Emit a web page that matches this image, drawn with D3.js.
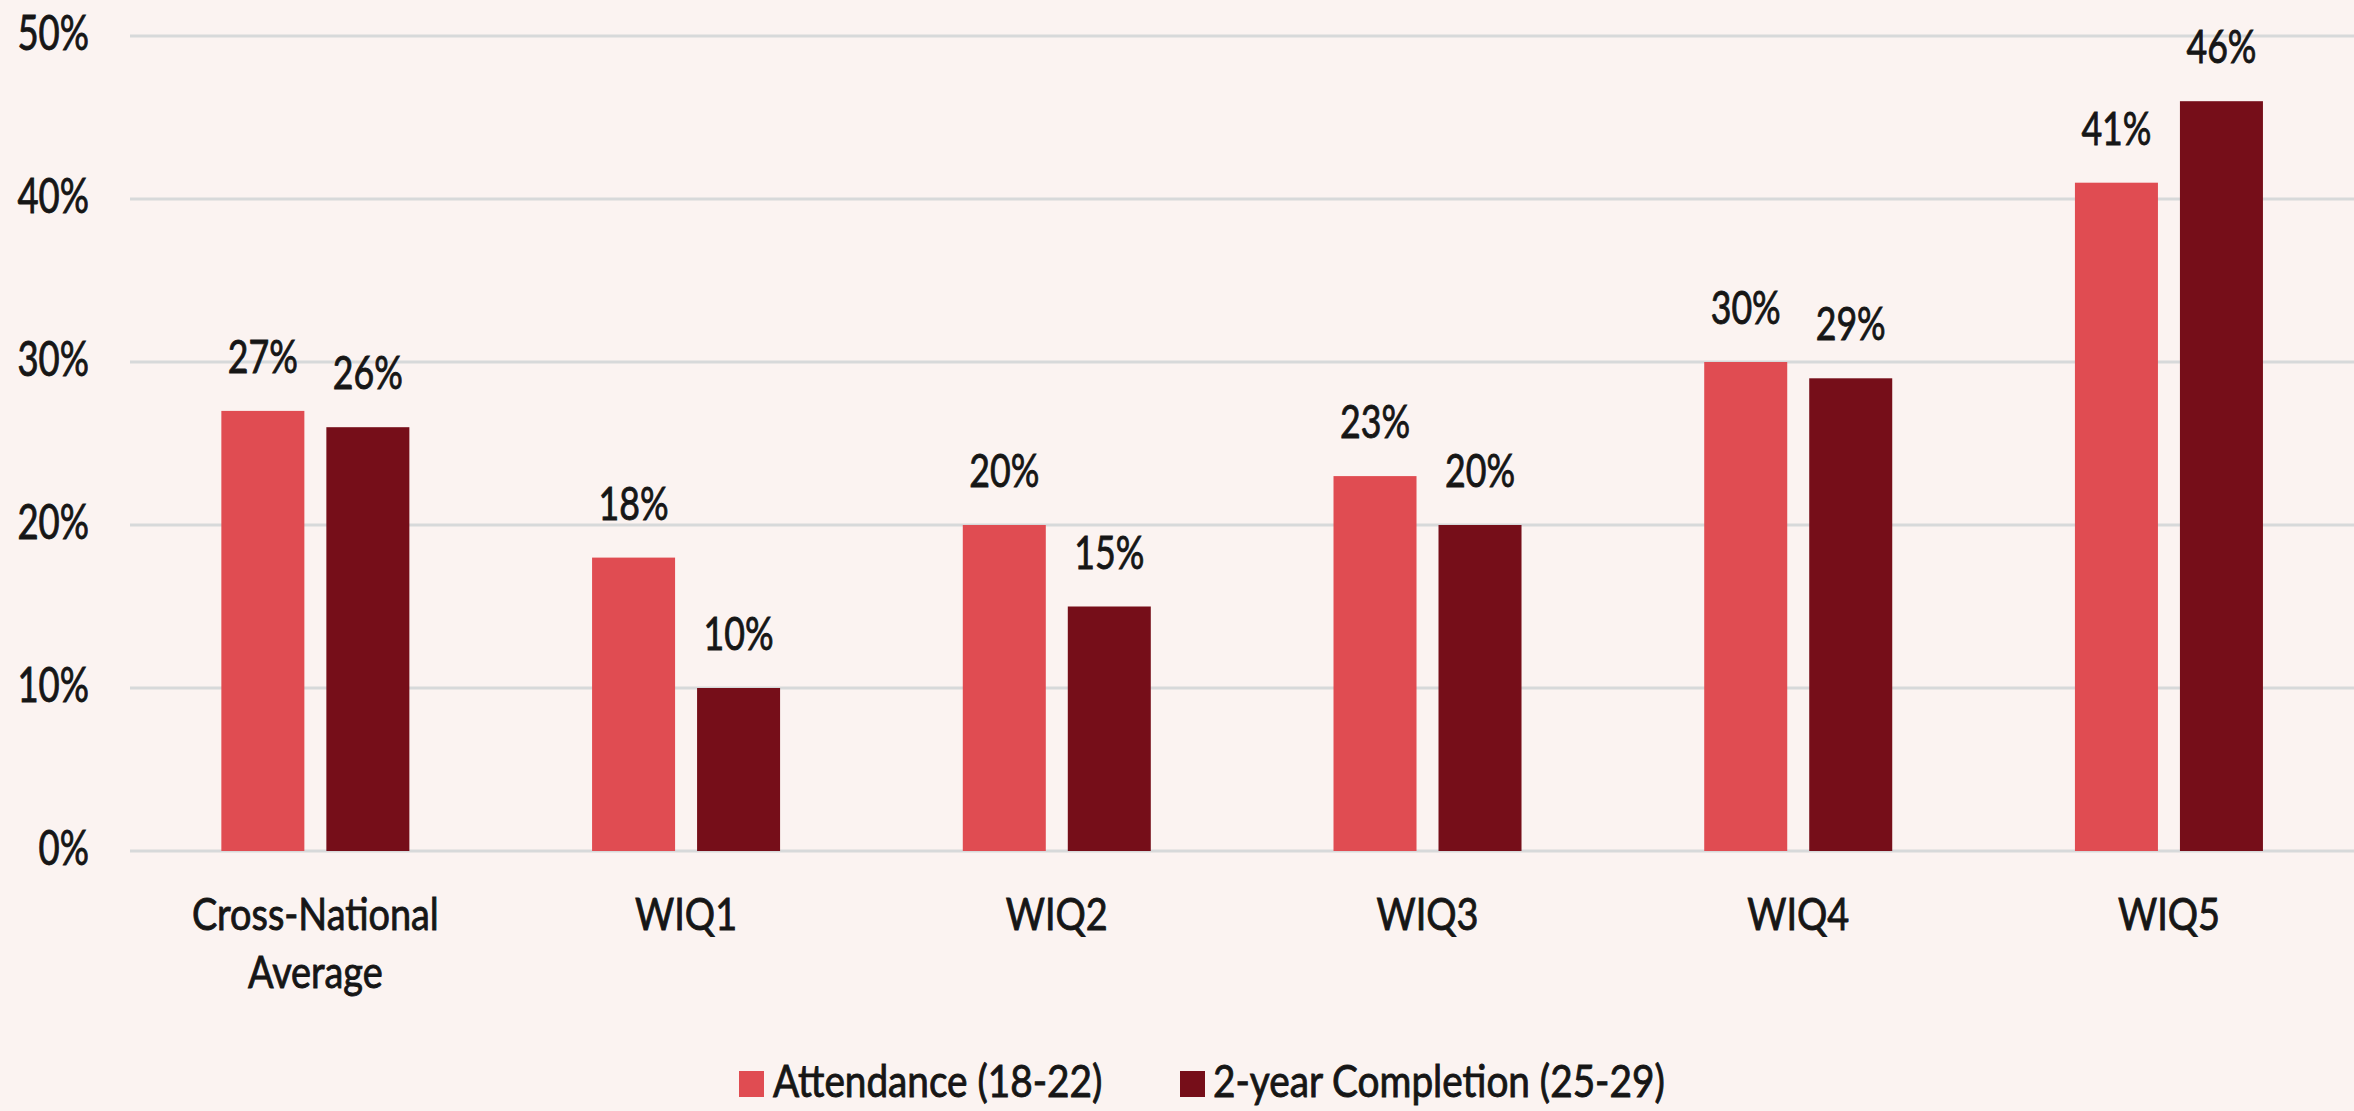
<!DOCTYPE html>
<html>
<head>
<meta charset="utf-8">
<script src="https://cdn.jsdelivr.net/npm/d3@7"></script>
<style>
  html, body { margin: 0; padding: 0; background: #FBF3F1; }
  svg { display: block; }
  text { font-family: Lato, "Open Sans", sans-serif; fill: #161616; stroke: #161616; stroke-width: 0.9px; }
</style>
</head>
<body>
<svg id="chart" width="2354" height="1111"></svg>
<script>
// ---- data ----
const categories = ["Cross-National Average", "WIQ1", "WIQ2", "WIQ3", "WIQ4", "WIQ5"];
const categoryLines = [["Cross-National", "Average"], ["WIQ1"], ["WIQ2"], ["WIQ3"], ["WIQ4"], ["WIQ5"]];
const seriesNames = ["Attendance (18-22)", "2-year Completion (25-29)"];
const attendance = [27, 18, 20, 23, 30, 41];
const completion = [26, 10, 15, 20, 29, 46];
const yTicks = [0, 10, 20, 30, 40, 50];
const seriesColors = ["#E04C52", "#760E19"];

// ---- layout ----
const W = 2354, H = 1111;
const plot = { left: 130, right: 2354.3, top: 36, bottom: 851 };
const svg = d3.select("#chart");
svg.append("rect").attr("width", W).attr("height", H).attr("fill", "#FBF3F1");

const x = d3.scaleBand().domain(categories).range([plot.left, plot.right]).paddingInner(0).paddingOuter(0);
const x1 = d3.scaleBand().domain(seriesNames).range([0, x.bandwidth()]).paddingInner(0.2095).paddingOuter(0.87);
const y = d3.scaleLinear().domain([0, 50]).range([plot.bottom, plot.top]);

// gridlines
svg.append("g").selectAll("line").data(yTicks).join("line")
  .attr("x1", plot.left).attr("x2", W)
  .attr("y1", d => y(d)).attr("y2", d => y(d))
  .attr("stroke", "#D7D9DA").attr("stroke-width", 3);

// y tick labels
svg.append("g").selectAll("text").data(yTicks).join("text")
  .attr("transform", d => `translate(89,${y(d) + 14}) scale(0.76,1)`)
  .attr("text-anchor", "end")
  .attr("font-size", 48)
  .text(d => d + "%");

// bars
const rows = categories.map((c, i) => ({ cat: c, vals: [attendance[i], completion[i]] }));
const groups = svg.append("g").selectAll("g").data(rows).join("g")
  .attr("transform", d => `translate(${x(d.cat)},0)`);

groups.selectAll("rect").data(d => d.vals.map((v, j) => ({ key: seriesNames[j], v, j }))).join("rect")
  .attr("x", d => x1(d.key))
  .attr("width", x1.bandwidth())
  .attr("y", d => y(d.v))
  .attr("height", d => y(0) - y(d.v))
  .attr("fill", d => seriesColors[d.j]);

groups.selectAll("text.val").data(d => d.vals.map((v, j) => ({ key: seriesNames[j], v, j }))).join("text")
  .attr("class", "val")
  .attr("transform", d => `translate(${x1(d.key) + x1.bandwidth() / 2},${y(d.v) - 38}) scale(0.76,1)`)
  .attr("text-anchor", "middle")
  .attr("font-size", 47)
  .text(d => d.v + "%");

// category labels
const catG = svg.append("g").selectAll("g").data(categories).join("g")
  .attr("transform", d => `translate(${x(d) + x.bandwidth() / 2},0)`);
catG.selectAll("text").data((d, i) => categoryLines[i]).join("text")
  .attr("transform", (d, k) => `translate(0,${930 + k * 58}) scale(0.86,1)`)
  .attr("text-anchor", "middle")
  .attr("font-size", 44)
  .text(d => d);

// legend
const legendItems = [
  { name: seriesNames[0], color: seriesColors[0], sx: 739, tx: 773 },
  { name: seriesNames[1], color: seriesColors[1], sx: 1180, tx: 1213 }
];
const lg = svg.append("g");
lg.selectAll("rect").data(legendItems).join("rect")
  .attr("x", d => d.sx).attr("y", 1071).attr("width", 25).attr("height", 26)
  .attr("fill", d => d.color);
lg.selectAll("text").data(legendItems).join("text")
  .attr("transform", d => `translate(${d.tx},1097) scale(0.88,1)`)
  .attr("font-size", 44)
  .text(d => d.name);
</script>
</body>
</html>
